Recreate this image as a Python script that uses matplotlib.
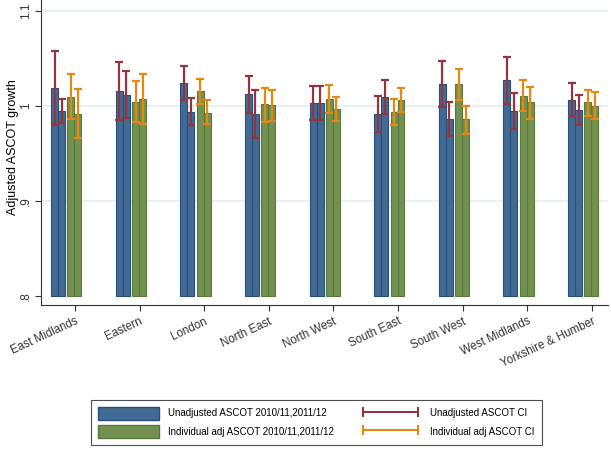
import numpy as np
import matplotlib.pyplot as plt
from matplotlib.patches import Patch
from matplotlib.lines import Line2D

plt.rcParams['font.family'] = ['Liberation Sans', 'DejaVu Sans']

regions = ['East Midlands', 'Eastern', 'London', 'North East', 'North West',
           'South East', 'South West', 'West Midlands', 'Yorkshire & Humber']

# unadjusted ASCOT, 2010/11 and 2011/12
unadj_1011 = [1.019, 1.016, 1.024, 1.013, 1.003, 0.992, 1.023, 1.027, 1.007]
unadj_1011_lo = [0.980, 0.985, 1.006, 0.993, 0.985, 0.973, 0.999, 1.002, 0.990]
unadj_1011_hi = [1.058, 1.046, 1.042, 1.032, 1.021, 1.011, 1.047, 1.052, 1.024]
unadj_1112 = [0.995, 1.012, 0.994, 0.992, 1.003, 1.010, 0.987, 0.995, 0.996]
unadj_1112_lo = [0.982, 0.988, 0.980, 0.967, 0.985, 0.992, 0.969, 0.976, 0.980]
unadj_1112_hi = [1.008, 1.037, 1.009, 1.017, 1.021, 1.028, 1.004, 1.014, 1.012]

# individual adjusted ASCOT
adj_1011 = [1.010, 1.004, 1.016, 1.002, 1.008, 0.994, 1.023, 1.011, 1.004]
adj_1011_lo = [0.986, 0.983, 1.002, 0.983, 0.993, 0.980, 1.007, 0.995, 0.990]
adj_1011_hi = [1.034, 1.026, 1.029, 1.019, 1.022, 1.008, 1.039, 1.028, 1.017]
adj_1112 = [0.992, 1.008, 0.993, 1.001, 0.997, 1.007, 0.986, 1.004, 1.000]
adj_1112_lo = [0.967, 0.981, 0.981, 0.984, 0.984, 0.994, 0.971, 0.987, 0.987]
adj_1112_hi = [1.018, 1.034, 1.006, 1.017, 1.010, 1.019, 1.000, 1.020, 1.015]

blue, blue_edge = '#426a94', '#24507a'
green, green_edge = '#72904f', '#587a38'
maroon, orange = '#93353f', '#e8870f'

fig = plt.figure(figsize=(6.11, 4.5), dpi=100)
ax = fig.add_axes([41 / 611, 1 - 305 / 450, 567 / 611, 305 / 450])

x = np.arange(1, len(regions) + 1)
w = 0.108
base = 0.8
series = [
    (unadj_1011, unadj_1011_lo, unadj_1011_hi, -0.314, blue, blue_edge, maroon),
    (unadj_1112, unadj_1112_lo, unadj_1112_hi, -0.206, blue, blue_edge, maroon),
    (adj_1011, adj_1011_lo, adj_1011_hi, -0.062, green, green_edge, orange),
    (adj_1112, adj_1112_lo, adj_1112_hi, 0.046, green, green_edge, orange),
]

for y in [0.9, 1.0, 1.1]:
    ax.axhline(y, color='#e3edf0', lw=1.2, zorder=0)

for vals, lo, hi, off, fc, ec, cc in series:
    vals = np.array(vals)
    ax.bar(x + off, vals - base, bottom=base, width=w, color=fc,
           edgecolor=ec, linewidth=0.8, zorder=2)
for vals, lo, hi, off, fc, ec, cc in series:
    vals = np.array(vals)
    err = [vals - np.array(lo), np.array(hi) - vals]
    ax.errorbar(x + off, vals, yerr=err, fmt='none', ecolor=cc,
                elinewidth=1.6, capsize=3, capthick=1.6, zorder=3)

ax.set_xlim(0.474, 9.25)
ax.set_ylim(0.791, 1.1116)
ax.set_xticks(x)
ax.set_xticklabels(regions, rotation=25, ha='right', rotation_mode='anchor',
                   fontsize=8.3)
ax.set_yticks([0.8, 0.9, 1.0, 1.1])
ax.set_yticklabels(['.8', '.9', '1', '1.1'], rotation=90, va='center',
                   fontsize=8.5)
ax.set_ylabel('Adjusted ASCOT growth', fontsize=9)
ax.yaxis.set_label_coords(-0.039, 0.518)
for s in ['top', 'right']:
    ax.spines[s].set_visible(False)
for s in ['left', 'bottom']:
    ax.spines[s].set_color('#333333')
ax.tick_params(colors='#333333', length=4.5, pad=2)
ax.tick_params(axis='x', pad=3)

handles = [
    Patch(facecolor=blue, edgecolor=blue_edge),
    Patch(facecolor=green, edgecolor=green_edge),
    Line2D([], [], color=maroon, lw=1.5, marker='|', markersize=7, markeredgewidth=1.5),
    Line2D([], [], color=orange, lw=1.5, marker='|', markersize=7, markeredgewidth=1.5),
]
labels = ['Unadjusted ASCOT 2010/11,2011/12',
          'Individual adj ASCOT 2010/11,2011/12',
          'Unadjusted ASCOT CI', 'Individual adj ASCOT CI']
leg = fig.legend(handles, labels, loc='center', bbox_to_anchor=(0.518, 0.061),
                 ncol=2, fontsize=7, numpoints=2, handlelength=6.2, handleheight=1.65,
                 handletextpad=1.0, columnspacing=2.7, fancybox=False,
                 edgecolor='#222222', borderpad=0.7, labelspacing=0.6)
leg.get_frame().set_linewidth(0.8)

fig.savefig('out.png', dpi=100)
